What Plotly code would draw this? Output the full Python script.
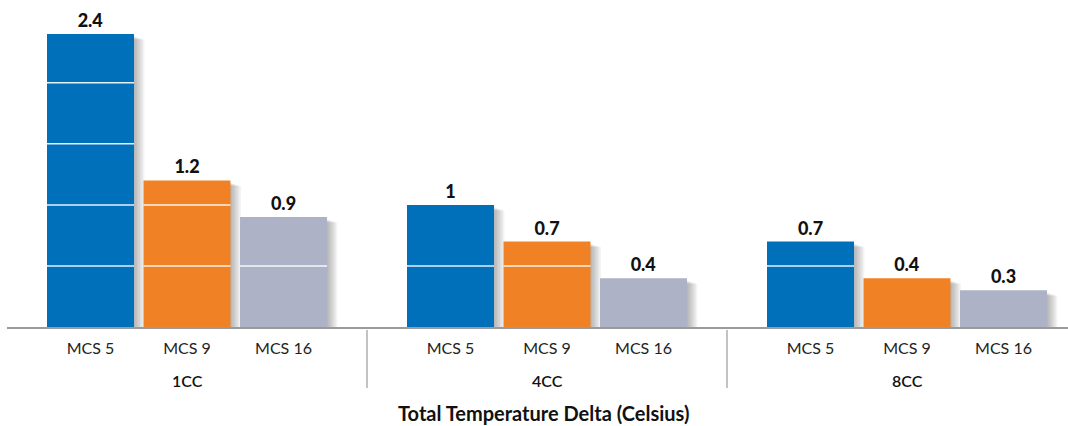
import plotly.graph_objects as go

# ---- data ----
groups = ["1CC", "4CC", "8CC"]
series = ["MCS 5", "MCS 9", "MCS 16"]
mcs5 = [2.4, 1.0, 0.7]
mcs9 = [1.2, 0.7, 0.4]
mcs16 = [0.9, 0.4, 0.3]
values = [mcs5, mcs9, mcs16]
colors = ["#0070BB", "#F08125", "#ADB2C6"]
grid_vals = [0.5, 1.0, 1.5, 2.0]
axis_title = "Total Temperature Delta (Celsius)"

# ---- geometry (in group units: one group = 1.0) ----
W, H = 1068, 426
ml, mr, mt, mb = 7, 0, 10, 99
plot_w = W - ml - mr
plot_h = H - mt - mb
px_per_group = 360.0
x_range = [0, plot_w / px_per_group]
px_per_unit_y = 122.1
y_range = [0, plot_h / px_per_unit_y]
spacing = 96.5 / px_per_group
bar_w = 87.0 / px_per_group
pxx = 1.0 / px_per_group
pxy = 1.0 / px_per_unit_y

fig = go.Figure()

def xs_for(i):
    return [g + 0.5 + (i - 1) * spacing for g in range(len(groups))]

# shadows
for i, vals in enumerate(values):
    for k in range(1, 8):
        fig.add_trace(go.Bar(
            x=[x + (1.5 * k) * pxx for x in xs_for(i)],
            y=[v - (2 + 0.5 * k) * pxy for v in vals],
            width=bar_w,
            marker=dict(color="rgba(0,0,0,0.045)", line=dict(width=0)),
            hoverinfo="skip", showlegend=False,
        ))

# main bars
for i, vals in enumerate(values):
    fig.add_trace(go.Bar(
        x=xs_for(i), y=vals, width=bar_w, name=series[i],
        marker=dict(color=colors[i], line=dict(width=0)),
        text=[f"{v:g}" for v in vals], textposition="outside",
        textfont=dict(family="Lato", size=18, color="#111", weight=900),
        cliponaxis=False, showlegend=False,
    ))

# white gridlines visible on bars only
gx, gy = [], []
for i, vals in enumerate(values):
    for x, v in zip(xs_for(i), vals):
        for g in grid_vals:
            if g < v:
                gx += [x - bar_w / 2, x + bar_w / 2, None]
                gy += [g, g, None]
fig.add_trace(go.Scatter(x=gx, y=gy, mode="lines",
                         line=dict(color="rgba(255,255,255,0.9)", width=1.5),
                         hoverinfo="skip", showlegend=False))

# tick labels (series names per group)
tickvals, ticktext = [], []
for g in range(len(groups)):
    for i, s in enumerate(series):
        tickvals.append(g + 0.5 + (i - 1) * spacing)
        ticktext.append(s)

# group labels & separators
for g, name in enumerate(groups):
    fig.add_annotation(x=g + 0.5, y=0, yref="y", text=name, showarrow=False,
                       yshift=-53, font=dict(family="Lato", size=16, color="#111",
                                             weight=600))
for g in range(1, len(groups)):
    fig.add_shape(type="line", x0=g, x1=g, y0=-3 / plot_h, y1=-61 / plot_h,
                  xref="x", yref="paper", line=dict(color="#9a9a9a", width=1.2))

fig.add_annotation(x=(543 - ml) / plot_w, xref="paper", y=-(413 - (H - mb)) / plot_h,
                   yref="paper", text=f"<b>{axis_title}</b>", showarrow=False,
                   yanchor="middle",
                   font=dict(family="Lato", size=20, color="#111"))

fig.update_layout(
    width=W, height=H, barmode="overlay",
    margin=dict(l=ml, r=mr, t=mt, b=mb),
    plot_bgcolor="white", paper_bgcolor="white",
    xaxis=dict(range=x_range, tickvals=tickvals, ticktext=ticktext,
               showgrid=False, zeroline=False, showline=True,
               linecolor="#9a9a9a", linewidth=1.5, ticks="",
               ticklabelstandoff=6,
               tickfont=dict(family="Lato", size=16, color="#222")),
    yaxis=dict(range=y_range, showgrid=False, zeroline=False,
               showticklabels=False, showline=False),
)

fig.write_html("out.html", config={"displayModeBar": False},
               post_script="document.body.style.margin='0';document.body.style.overflow='hidden';")
